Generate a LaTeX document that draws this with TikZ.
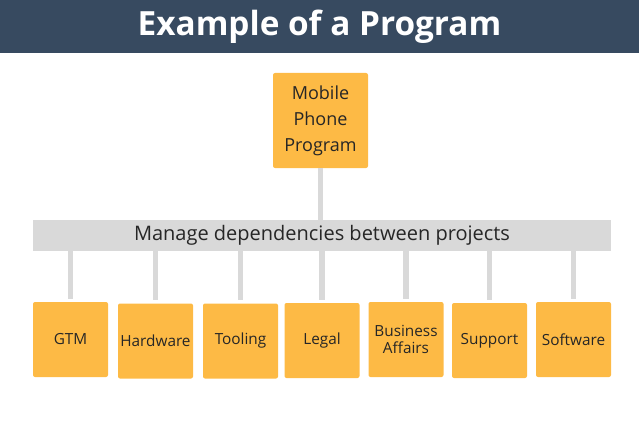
\documentclass[tikz,border=0pt]{standalone}
\usepackage{fontspec}
\setmainfont{Open Sans}
\usepackage{tikz}
\usetikzlibrary{positioning}
\definecolor{HeadBlue}{HTML}{374A60}
\definecolor{BoxOrange}{HTML}{FDBA45}
\definecolor{BarGray}{HTML}{D9D9D9}
\tikzset{
  projbox/.style={fill=BoxOrange, rounded corners=1.5pt, minimum width=75*0.75pt, minimum height=75*0.75pt, inner sep=1pt, align=center, font=\fontsize{11.5}{13}\selectfont, text=black!85},
  link/.style={BarGray, line width=3.8pt}
}
\begin{document}
\begin{tikzpicture}[x=0.75pt, y=-0.75pt]
		\useasboundingbox (0,0) rectangle (639,435);
		\fill [HeadBlue] (0,0) rectangle (639,53);
		\node (title) [text=white, font=\fontsize{25}{28}\bfseries\selectfont] at (319.5,27) {Example of a Program};
		
		\node (prog) [projbox, minimum width=95*0.75pt, minimum height=95*0.75pt, font=\fontsize{13.5}{19.5}\selectfont] at (320.5,120.5) {Mobile\\Phone\\Program};
		\node (bar) [fill=BarGray, minimum width=578*0.75pt, minimum height=31*0.75pt, inner sep=0pt, font=\fontsize{15}{18}\selectfont, text=black!85] at (322,235.5) {Manage dependencies between projects};
		\draw [link] (prog.south) -- (prog.south |- bar.north);
		
		\node (gtm) [projbox] at (70.5,339.5) {GTM};
		\node (hw) [projbox] at (155.5,341) {Hardware};
		\node (tool) [projbox] at (240.5,341) {Tooling};
		\node (legal) [projbox] at (322,340.5) {Legal};
		\node (biz) [projbox] at (406,339.5) {Business\\Affairs};
		\node (supp) [projbox] at (489.5,340.5) {Support};
		\node (soft) [projbox] at (573.5,339.5) {Software};
		
		\foreach \b in {gtm, hw, tool, legal, biz, supp, soft}
			\draw [link] (bar.south -| \b.north) -- ([yshift=2.25pt]\b.north);
	\end{tikzpicture}
\end{document}
